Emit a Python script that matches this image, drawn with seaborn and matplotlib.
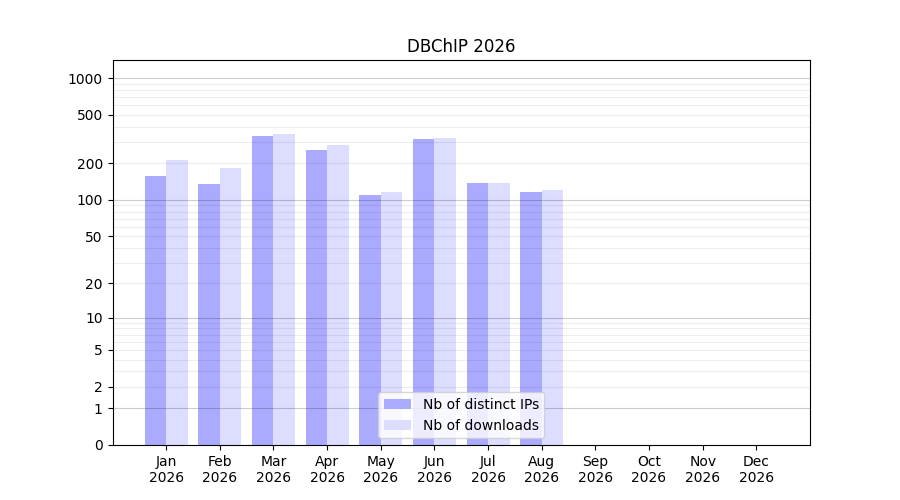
import numpy as np
import pandas as pd
import matplotlib
matplotlib.use('Agg')
import matplotlib.pyplot as plt
import seaborn as sns

months = ['Jan', 'Feb', 'Mar', 'Apr', 'May', 'Jun', 'Jul', 'Aug', 'Sep', 'Oct', 'Nov', 'Dec']
year = 2026
nb_ips = [156, 136, 337, 259, 110, 319, 139, 117, 0, 0, 0, 0]
nb_downloads = [214, 184, 350, 285, 117, 325, 139, 121, 0, 0, 0, 0]

yticks = [0, 1, 2, 5, 10, 20, 50, 100, 200, 500, 1000]


def f(x):
    return np.log10(1 + np.clip(x, 0, None))


def finv(y):
    return 10 ** y - 1


df = pd.DataFrame({
    'month': months * 2,
    'value': nb_ips + nb_downloads,
    'what': ['Nb of distinct IPs'] * 12 + ['Nb of downloads'] * 12,
})

plt.rcParams['font.family'] = ['DejaVu Sans']

fig, ax = plt.subplots(figsize=(9, 5), dpi=100)
sns.barplot(data=df, x='month', y='value', hue='what', order=months,
            palette=['#aaaaff', '#ddddff'], saturation=1, width=0.8,
            errorbar=None, linewidth=0, edgecolor='none', ax=ax, zorder=1)

ax.set_yscale('function', functions=(f, finv))
ax.set_ylim(0, 1405)
ax.set_xlim(-1, 12)
ax.set_yticks(yticks)
ax.set_yticklabels([str(t) for t in yticks])
ax.minorticks_off()

# grid: light for every n*10^k, darker at decades
minor = [n * 10 ** k for k in range(0, 3) for n in range(2, 10)]
for v in minor:
    ax.axhline(v, color='black', alpha=0.07, lw=0.8, zorder=2)
for v in [1, 10, 100, 1000]:
    ax.axhline(v, color='black', alpha=0.2, lw=0.8, zorder=2)

ax.set_xticks(range(12))
ax.set_xticklabels([f'{m}\n{year}' for m in months])
ax.set_xlabel('')
ax.set_ylabel('')
ax.set_title(f'DBChIP {year}')

handles, labels = ax.get_legend_handles_labels()
ax.legend(handles, labels, loc='lower center', title=None)

fig.savefig('out.png')
